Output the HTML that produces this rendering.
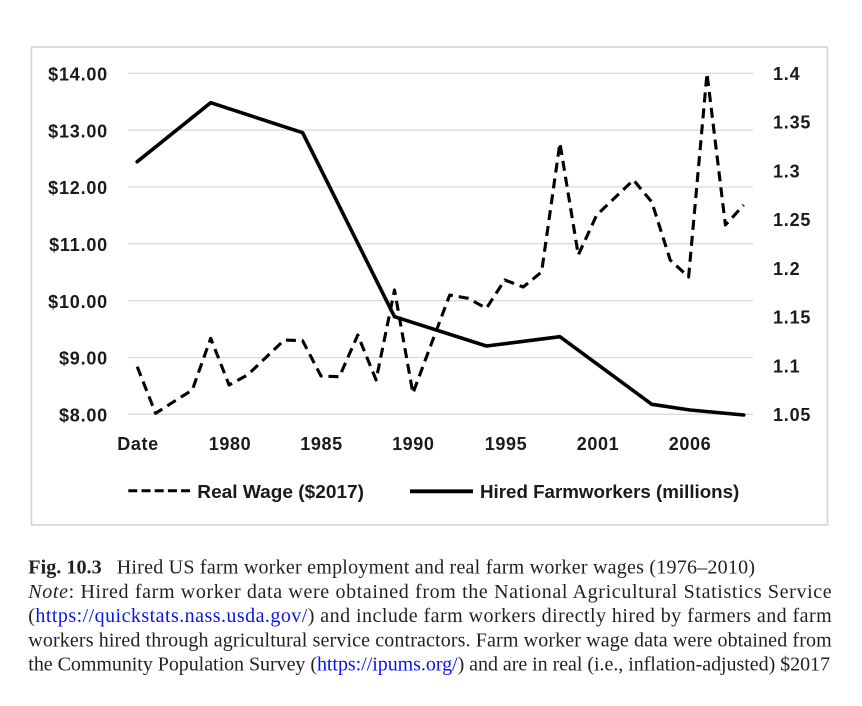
<!DOCTYPE html>
<html>
<head>
<meta charset="utf-8">
<style>
html,body{margin:0;padding:0;background:#fff;}
svg{display:block;}
.ax{font-family:"Liberation Sans",Arial,sans-serif;font-weight:bold;font-size:18px;fill:#1a1a1a;}
.cap{font-family:"Liberation Serif","Times New Roman",serif;font-size:20px;fill:#231f20;}
.lnk{fill:#0a14e6;}
</style>
</head>
<body>
<svg width="862" height="706" viewBox="0 0 862 706" xmlns="http://www.w3.org/2000/svg">
<rect x="0" y="0" width="862" height="706" fill="#fff"/>
<!-- chart frame -->
<rect x="31.5" y="47" width="796" height="478" fill="#fff" stroke="#d4d4d4" stroke-width="1.6"/>
<!-- gridlines -->
<g stroke="#d9d9d9" stroke-width="1.3">
<line x1="128" y1="73.3" x2="753" y2="73.3"/>
<line x1="128" y1="130.1" x2="753" y2="130.1"/>
<line x1="128" y1="187" x2="753" y2="187"/>
<line x1="128" y1="243.8" x2="753" y2="243.8"/>
<line x1="128" y1="300.6" x2="753" y2="300.6"/>
<line x1="128" y1="357.5" x2="753" y2="357.5"/>
<line x1="128" y1="414.3" x2="753" y2="414.3"/>
</g>
<!-- left axis labels -->
<g class="ax" text-anchor="end" letter-spacing="0.8">
<text x="108" y="80.5">$14.00</text>
<text x="108" y="137.3">$13.00</text>
<text x="108" y="194.2">$12.00</text>
<text x="108" y="251">$11.00</text>
<text x="108" y="307.8">$10.00</text>
<text x="108" y="364.7">$9.00</text>
<text x="108" y="421.5">$8.00</text>
</g>
<!-- right axis labels -->
<g class="ax" letter-spacing="0.8">
<text x="773" y="80">1.4</text>
<text x="773" y="128.7">1.35</text>
<text x="773" y="177.4">1.3</text>
<text x="773" y="226.1">1.25</text>
<text x="773" y="274.8">1.2</text>
<text x="773" y="323.6">1.15</text>
<text x="773" y="372.3">1.1</text>
<text x="773" y="421">1.05</text>
</g>
<!-- x axis labels -->
<g class="ax" text-anchor="middle" letter-spacing="0.6">
<text x="138" y="450">Date</text>
<text x="230" y="450">1980</text>
<text x="321.5" y="450">1985</text>
<text x="413.3" y="450">1990</text>
<text x="506" y="450">1995</text>
<text x="598" y="450">2001</text>
<text x="690" y="450">2006</text>
</g>
<!-- hired farmworkers (solid) -->
<polyline fill="none" stroke="#000" stroke-width="3.6" stroke-linejoin="round" stroke-linecap="round"
points="137.2,161.7 210.7,102.7 302.6,132.7 394.5,316.7 486.4,346 559.9,336.7 651.8,404.3 690,410 743.7,415"/>
<!-- real wage (dashed) -->
<polyline fill="none" stroke="#000" stroke-width="3.1" stroke-dasharray="10 6" stroke-linejoin="round"
points="137.2,366.7 155.6,413.3 174,401.5 192.3,390 210.7,338.3 229.1,385 247.5,375 265.9,357.5 284.2,340 302.6,340.7 321,376 339.4,376.7 357.8,335 376.1,380 394.5,290 412.9,393.3 431.3,344 449.7,295 468,298.3 486.4,308.3 504.8,280 523.2,287 541.6,272 559.9,143 578.3,255 596.7,215 615.1,197.5 633.5,180 651.8,202 670.2,260 688.6,277 707,73.3 725.4,225 743.7,205"/>
<!-- legend -->
<line x1="128.3" y1="490.7" x2="190" y2="490.7" stroke="#000" stroke-width="3" stroke-dasharray="9 4.2"/>
<text class="ax" x="197.3" y="498" textLength="166.7" lengthAdjust="spacingAndGlyphs">Real Wage ($2017)</text>
<line x1="410" y1="491.3" x2="473" y2="491.3" stroke="#000" stroke-width="3.8"/>
<text class="ax" x="480" y="498" textLength="259.3" lengthAdjust="spacingAndGlyphs">Hired Farmworkers (millions)</text>
<!-- caption -->
<text class="cap" x="28.3" y="573.3" font-weight="bold" textLength="73.4" lengthAdjust="spacingAndGlyphs">Fig. 10.3</text>
<text class="cap" x="116.7" y="573.3" textLength="638.3" lengthAdjust="spacing">Hired US farm worker employment and real farm worker wages (1976–2010)</text>
<text class="cap" x="28.3" y="597.8" textLength="803.4" lengthAdjust="spacing"><tspan font-style="italic">Note</tspan>: Hired farm worker data were obtained from the National Agricultural Statistics Service</text>
<text class="cap" x="28.3" y="622" textLength="803.4" lengthAdjust="spacing">(<tspan class="lnk">https://quickstats.nass.usda.gov/</tspan>) and include farm workers directly hired by farmers and farm</text>
<text class="cap" x="28.3" y="646.3" textLength="803.4" lengthAdjust="spacing">workers hired through agricultural service contractors. Farm worker wage data were obtained from</text>
<text class="cap" x="28.3" y="670.5" textLength="801.7" lengthAdjust="spacing">the Community Population Survey (<tspan class="lnk">https://ipums.org/</tspan>) and are in real (i.e., inflation-adjusted) $2017</text>
</svg>
</body>
</html>
